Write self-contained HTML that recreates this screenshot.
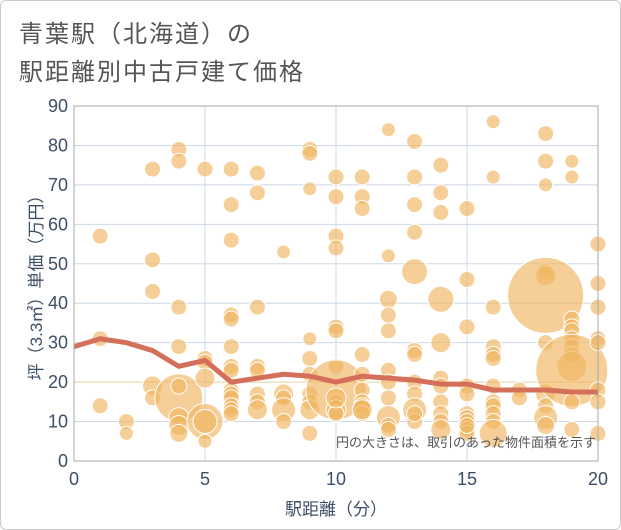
<!DOCTYPE html>
<html><head><meta charset="utf-8">
<style>
body{margin:0;background:#fff;}
#wrap{position:relative;width:619px;height:528px;border:1px solid #ccc;border-radius:6px;overflow:hidden;background:#fff;}
.t{position:absolute;left:18px;font-family:"Liberation Sans","Noto Sans CJK JP",sans-serif;font-size:24px;color:#555;letter-spacing:2px;}
svg text{font-family:"Liberation Sans","Noto Sans CJK JP",sans-serif;}
</style></head>
<body>
<div id="wrap">
<div class="t" style="top:13px">青葉駅（北海道）の</div>
<div class="t" style="top:51px">駅距離別中古戸建て価格</div>
<svg id="chart" width="621" height="530" style="position:absolute;left:0;top:0"></svg>
</div>
<script>
const xTicks=[0,5,10,15,20];
const yTicks=[0,10,20,30,40,50,60,70,80,90];
const lineX=[0,1,2,3,4,5,6,7,8,9,10,11,12,13,14,15,16,17,18,19,20];
const lineY=[29,31,30,28,24,25.5,20,21,22,21.5,20,21.5,21,20.5,19.5,19.5,18,18,18,17.5,17.5];
const bubbleX=[1,1,1,2,2,3,3,3,3,3,4,4,4,4,4,4,4,4,4,5,5,5,5,5,5,5,
6,6,6,6,6,6,6,6,6,6,6,6,6,6,7,7,7,7,7,7,7,7,8,8,8,8,8,
9,9,9,9,9,9,9,9,9,9,10,10,10,10,10,10,10,10,10,10,10,10,
11,11,11,11,11,11,11,11,11,11,12,12,12,12,12,12,12,12,12,12,12,
13,13,13,13,13,13,13,13,13,13,13,13,14,14,14,14,14,14,14,14,14,14,14,
15,15,15,15,15,15,15,15,15,15,15,16,16,16,16,16,16,16,16,16,16,16,16,17,17,
18,18,18,18,18,18,18,18,18,18,18,19,19,19,19,19,19,19,19,19,19,19,19,20,20,20,20,20,20,20,20];
const bubbleY=[57,31,14,10,7,74,51,43,19,16,79,76,39,29,16,19,11,9,7,74,26,25,21,10,10,5,
74,65,56,37,36,29,24,23,18,17,16,14,13,12,73,68,39,24,23,17,15,13,53,17,16,13,10,
79,78,69,31,26,22,17,15,13,7,72,67,57,54,34,33,24,18,15,13,12,16,
72,67,64,27,22,18,15,14,12,13,84,52,41,37,33,23,20,16,11,9,8,
81,72,65,58,48,28,27,20,17,13,10,12,75,68,63,41,30,21,19,15,12,10,8,
64,46,34,19,17,12,11,10,8,7,9,86,72,39,29,27,26,19,15,14,12,10,7,18,16,
83,76,70,48,47,42,30,17,14,11,9,76,72,36,34,33,31,29,27,24,23,15,8,55,45,39,31,30,18,15,7];
const bubbleSize=[8,8,8,8,7,8,8,8,10,8,8,8,8,8,24,8,10,10,9,8,8,8,10,18,12,7,
8,8,8,8,8,8,8,8,8,8,8,8,8,8,8,8,8,8,8,8,8,10,7,10,8,12,8,
8,8,7,7,8,8,8,8,10,8,8,8,8,8,8,8,8,30,8,10,8,10,
8,8,8,8,8,8,8,8,8,10,7,7,9,8,8,8,8,8,12,8,8,
8,8,8,8,13,8,8,8,8,12,8,8,8,8,8,13,10,8,8,8,8,8,10,
8,8,8,8,8,8,8,8,8,8,8,7,7,8,8,8,8,8,8,8,8,8,14,8,8,
8,8,7,8,10,38,8,10,8,12,9,7,7,8,8,8,8,8,8,15,36,8,8,8,8,8,8,8,8,8,8];
const NS="http://www.w3.org/2000/svg";
const svg=document.getElementById('chart');
const L=73,R=597,T=105,B=460;
const sx=v=>L+(v-0)/20*(R-L);
const sy=v=>B-(v-0)/90*(B-T);
function mk(tag,attrs){const e=document.createElementNS(NS,tag);for(const k in attrs)e.setAttribute(k,attrs[k]);svg.appendChild(e);return e;}
yTicks.forEach(v=>{
 const g=mk('line',{x1:L,x2:R,y1:sy(v),y2:sy(v),stroke:'#cdd8e6','stroke-width':1});
 
 
 const t=mk('text',{x:L-6,y:sy(v)+6,'text-anchor':'end','font-size':18,fill:'#3c4f66'});
 t.textContent=v;
 
 
});
xTicks.forEach(v=>{
 const g=mk('line',{x1:sx(v),x2:sx(v),y1:T,y2:B,stroke:'#cdd8e6','stroke-width':1});
 
 
 const t=mk('text',{x:sx(v),y:B+24,'text-anchor':'middle','font-size':18,fill:'#3c4f66'});
 t.textContent=v;
 
 
});
const ref=mk('line',{x1:L,x2:R,y1:sy(20),y2:sy(20),stroke:'#f0d7a8','stroke-width':1});


bubbleX.forEach((x,i)=>{
 const c=mk('circle',{cx:sx(x),cy:sy(bubbleY[i]),r:bubbleSize[i],fill:'rgba(240,182,95,0.65)',stroke:'#fff','stroke-width':1});
 
 
});
const pts=lineX.map((x,i)=>sx(x)+','+sy(lineY[i])).join(' ');
const pl=mk('polyline',{points:pts,fill:'none',stroke:'#d4705a','stroke-width':5,'stroke-linejoin':'round'});


const fr=mk('rect',{x:L,y:T,width:R-L,height:B-T,fill:'none',stroke:'#aaa','stroke-width':1});


const note=mk('text',{x:R-2,y:446,'text-anchor':'end','font-size':13,fill:'#555'});
note.textContent='円の大きさは、取引のあった物件面積を示す';


const xt=mk('text',{x:(L+R)/2,y:514,'text-anchor':'middle','font-size':17,fill:'#3c4f66'});
xt.textContent='駅距離（分）';


const yt=mk('text',{x:0,y:0,'text-anchor':'middle','font-size':17,fill:'#3c4f66',transform:'translate(41,'+((T+B)/2)+') rotate(-90)'});
yt.textContent='坪（3.3㎡）単価（万円）';


</script>
</body></html>
